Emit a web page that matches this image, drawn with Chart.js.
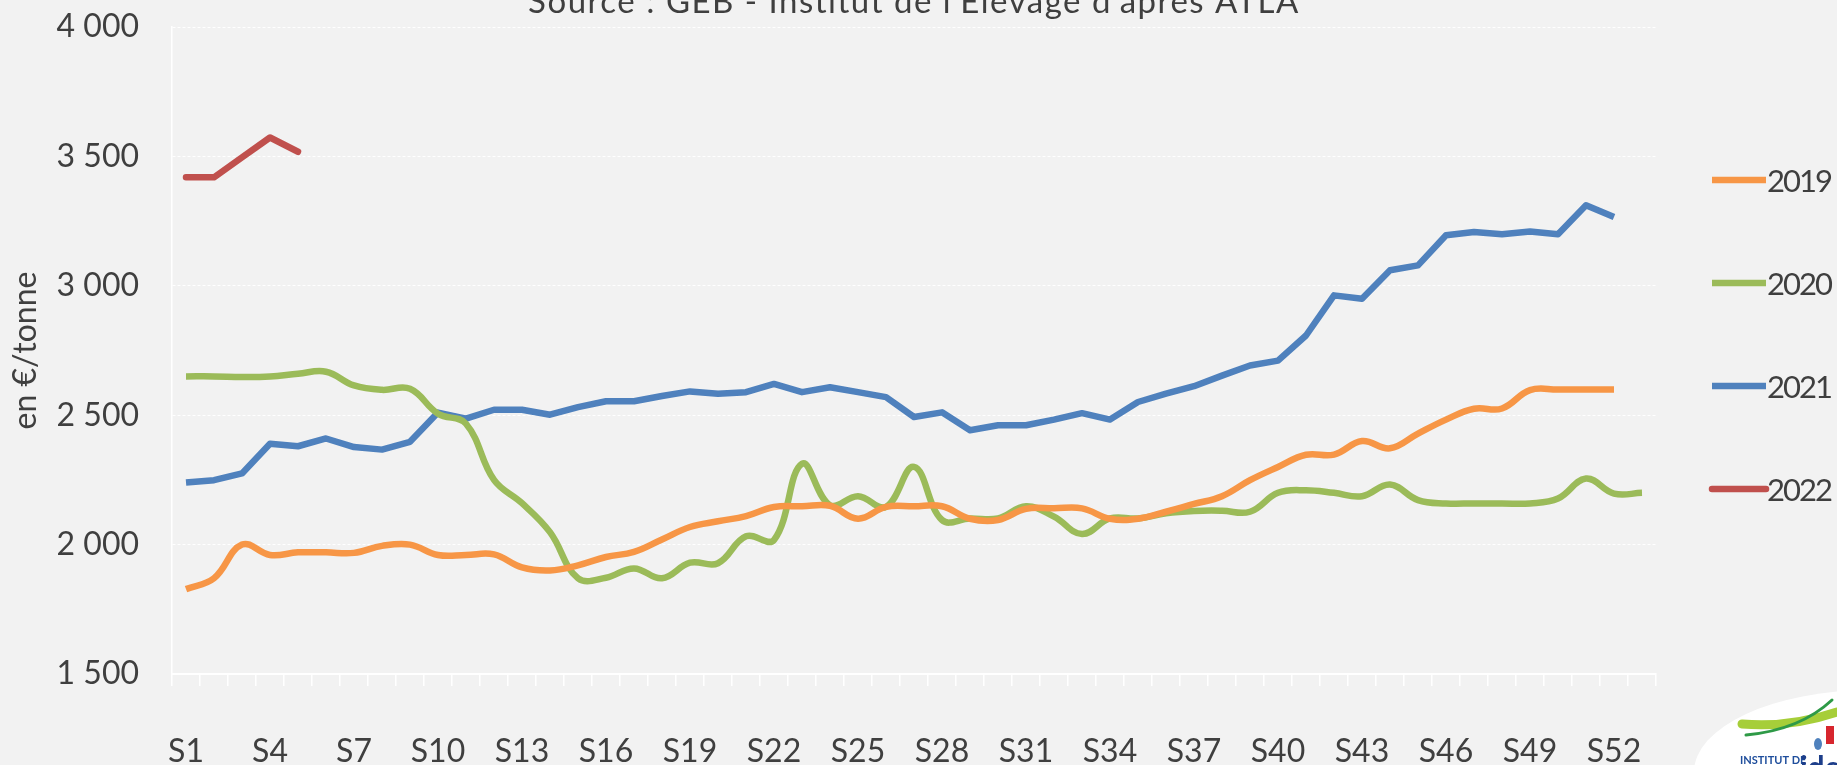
<!DOCTYPE html>
<html>
<head>
<meta charset="utf-8">
<script src="https://cdn.jsdelivr.net/npm/chart.js@4"></script>
<style>
  html, body { margin: 0; padding: 0; background: #f2f2f2; }
  #myChart { display: block; }
</style>
</head>
<body>
<canvas id="myChart" width="1837" height="765"></canvas>
<script>
// setup
const weeks = [
  "S1", "S2", "S3", "S4", "S5", "S6", "S7", "S8", "S9", "S10",
  "S11", "S12", "S13", "S14", "S15", "S16", "S17", "S18", "S19", "S20",
  "S21", "S22", "S23", "S24", "S25", "S26", "S27", "S28", "S29", "S30",
  "S31", "S32", "S33", "S34", "S35", "S36", "S37", "S38", "S39", "S40",
  "S41", "S42", "S43", "S44", "S45", "S46", "S47", "S48", "S49", "S50",
  "S51", "S52", "S53",
];

const prix2019 = [
  1828, 1870, 2000, 1960, 1970, 1970, 1968, 1995, 2000, 1960,
  1960, 1962, 1912, 1900, 1920, 1952, 1972, 2020, 2068, 2090,
  2110, 2145, 2148, 2150, 2100, 2146, 2148, 2148, 2100, 2095,
  2138, 2140, 2140, 2100, 2100, 2127, 2157, 2187, 2249, 2300,
  2347, 2348, 2400, 2372, 2429, 2483, 2525, 2526, 2597, 2599,
  2599, 2599,
];

const prix2020 = [
  2650, 2650, 2648, 2650, 2660, 2668, 2615, 2598, 2602, 2506,
  2467, 2250, 2160, 2048, 1870, 1872, 1908, 1870, 1930, 1928,
  2032, 2018, 2312, 2152, 2187, 2146, 2300, 2095, 2101, 2101,
  2148, 2108, 2041, 2101, 2101, 2121, 2130, 2131, 2127, 2200,
  2210, 2200, 2187, 2232, 2172, 2159, 2159, 2159, 2159, 2178,
  2255, 2197, 2200,
];

const prix2021 = [
  2240, 2249, 2275, 2390, 2380, 2410, 2377, 2367, 2397, 2510,
  2487, 2521, 2521, 2502, 2531, 2554, 2554, 2574, 2592, 2583,
  2589, 2621, 2589, 2608, 2589, 2570, 2493, 2511, 2442, 2461,
  2461, 2483, 2508, 2483, 2551, 2583, 2612, 2653, 2692, 2711,
  2808, 2963, 2950, 3060, 3079, 3195, 3208, 3199, 3210, 3199,
  3311, 3266,
];

const prix2022 = [3419, 3419, 3496, 3573, 3518];

const yTicks = [1500, 2000, 2500, 3000, 3500, 4000];

const FONT = 'Lato, "Noto Sans", sans-serif';
const TEXT = "#3f3f3f";

const fmt = (v) => Math.floor(v / 1000) + " " + String(v % 1000).padStart(3, "0");

// fond, titre, légende et logo
const decor = {
  id: "decor",
  beforeDraw(chart) {
    const ctx = chart.ctx;
    ctx.save();
    ctx.fillStyle = "#f2f2f2";
    ctx.fillRect(0, 0, chart.width, chart.height);
    ctx.restore();
  },
  afterDraw(chart) {
    const ctx = chart.ctx;
    ctx.save();

    // titre (coupé en haut comme sur l'original)
    ctx.fillStyle = TEXT;
    ctx.font = "33px " + FONT;
    ctx.letterSpacing = "1.5px";
    ctx.textAlign = "center";
    ctx.textBaseline = "alphabetic";
    ctx.fillText("Source : GEB - Institut de l'Elevage d'après ATLA", 914, 13);

    // légende
    ctx.font = "31px " + FONT;
    ctx.letterSpacing = "-2px";
    ctx.textAlign = "left";
    ctx.textBaseline = "middle";
    chart.data.datasets.forEach((ds, i) => {
      const y = 180 + i * 103;
      ctx.strokeStyle = ds.borderColor;
      ctx.lineWidth = 6.5;
      ctx.lineCap = i === 3 ? "round" : "butt";
      ctx.beginPath();
      ctx.moveTo(1712, y);
      ctx.lineTo(1766, y);
      ctx.stroke();
      ctx.fillStyle = TEXT;
      ctx.fillText(ds.label, 1767, y + 2);
    });
    ctx.letterSpacing = "0px";

    // logo idele (approximatif)
    ctx.fillStyle = "#ffffff";
    ctx.beginPath();
    ctx.ellipse(1872, 772, 178, 82, 0, 0, Math.PI * 2);
    ctx.fill();
    ctx.lineCap = "round";
    ctx.strokeStyle = "#a6ce39";
    ctx.lineWidth = 9;
    ctx.beginPath();
    ctx.moveTo(1742, 724);
    ctx.quadraticCurveTo(1790, 728, 1837, 712);
    ctx.stroke();
    ctx.strokeStyle = "#2e9a47";
    ctx.lineWidth = 3;
    ctx.beginPath();
    ctx.moveTo(1746, 735);
    ctx.quadraticCurveTo(1800, 730, 1832, 700);
    ctx.stroke();
    ctx.fillStyle = "#d7262e";
    ctx.fillRect(1826, 726, 8, 18);
    ctx.fillStyle = "#4f81bd";
    ctx.beginPath();
    ctx.ellipse(1818, 744, 4, 6, 0, 0, Math.PI * 2);
    ctx.fill();
    ctx.fillStyle = "#1f4e9c";
    ctx.font = "bold 11px " + FONT;
    ctx.textAlign = "left";
    ctx.textBaseline = "alphabetic";
    ctx.fillText("INSTITUT DE", 1740, 764);
    ctx.fillStyle = "#1d3e8a";
    ctx.font = "bold 30px " + FONT;
    ctx.fillText("idele", 1800, 778);

    ctx.restore();
  },
};

const data = {
  labels: weeks,
  datasets: [
    {
      label: "2019",
      data: prix2019,
      borderColor: "#f79646",
      tension: 0.4,
    },
    {
      label: "2020",
      data: prix2020,
      borderColor: "#9bbb59",
      tension: 0.4,
    },
    {
      label: "2021",
      data: prix2021,
      borderColor: "#4f81bd",
      tension: 0,
    },
    {
      label: "2022",
      data: prix2022,
      borderColor: "#c0504d",
      tension: 0,
      borderCapStyle: "round",
    },
  ],
};

// config
const config = {
  type: "line",
  data,
  options: {
    responsive: false,
    animation: false,
    layout: {
      padding: { left: 0, right: 181, top: 27, bottom: 0 },
    },
    elements: {
      line: { borderWidth: 6.5, borderJoinStyle: "round", fill: false },
      point: { radius: 0, hoverRadius: 0 },
    },
    scales: {
      x: {
        offset: true,
        afterFit: (scale) => {
          scale.height = 91;
          scale.paddingLeft = 0;
          scale.paddingRight = 0;
        },
        grid: {
          offset: true,
          drawOnChartArea: false,
          drawTicks: true,
          tickLength: 12,
          color: "#ffffff",
          lineWidth: 1.5,
        },
        border: { display: true, color: "#ffffff", width: 2 },
        ticks: {
          autoSkip: false,
          maxRotation: 0,
          minRotation: 0,
          padding: 46,
          color: TEXT,
          font: { family: FONT, size: 32 },
          callback: function (val, index) {
            return index % 3 === 0 ? this.getLabelForValue(val) : "";
          },
        },
      },
      y: {
        min: yTicks[0],
        max: yTicks[yTicks.length - 1],
        afterFit: (scale) => {
          scale.width = 172;
          scale.paddingTop = 0;
          scale.paddingBottom = 0;
        },
        afterBuildTicks: (scale) => {
          scale.ticks = yTicks.map((v) => ({ value: v }));
        },
        grid: {
          drawTicks: false,
          color: "#ffffff",
          lineWidth: 1,
        },
        border: { display: true, color: "#ffffff", width: 1.5, dash: [3, 2] },
        ticks: {
          padding: 33,
          color: TEXT,
          font: { family: FONT, size: 32 },
          callback: (v) => fmt(v),
        },
        title: {
          display: true,
          text: "en €/tonne",
          color: TEXT,
          padding: { top: 6, bottom: 0 },
          font: { family: FONT, size: 32 },
        },
      },
    },
    plugins: {
      legend: { display: false },
      tooltip: { enabled: false },
    },
  },
  plugins: [decor],
};

// render init block
const myChart = new Chart(document.getElementById("myChart"), config);
</script>
</body>
</html>
